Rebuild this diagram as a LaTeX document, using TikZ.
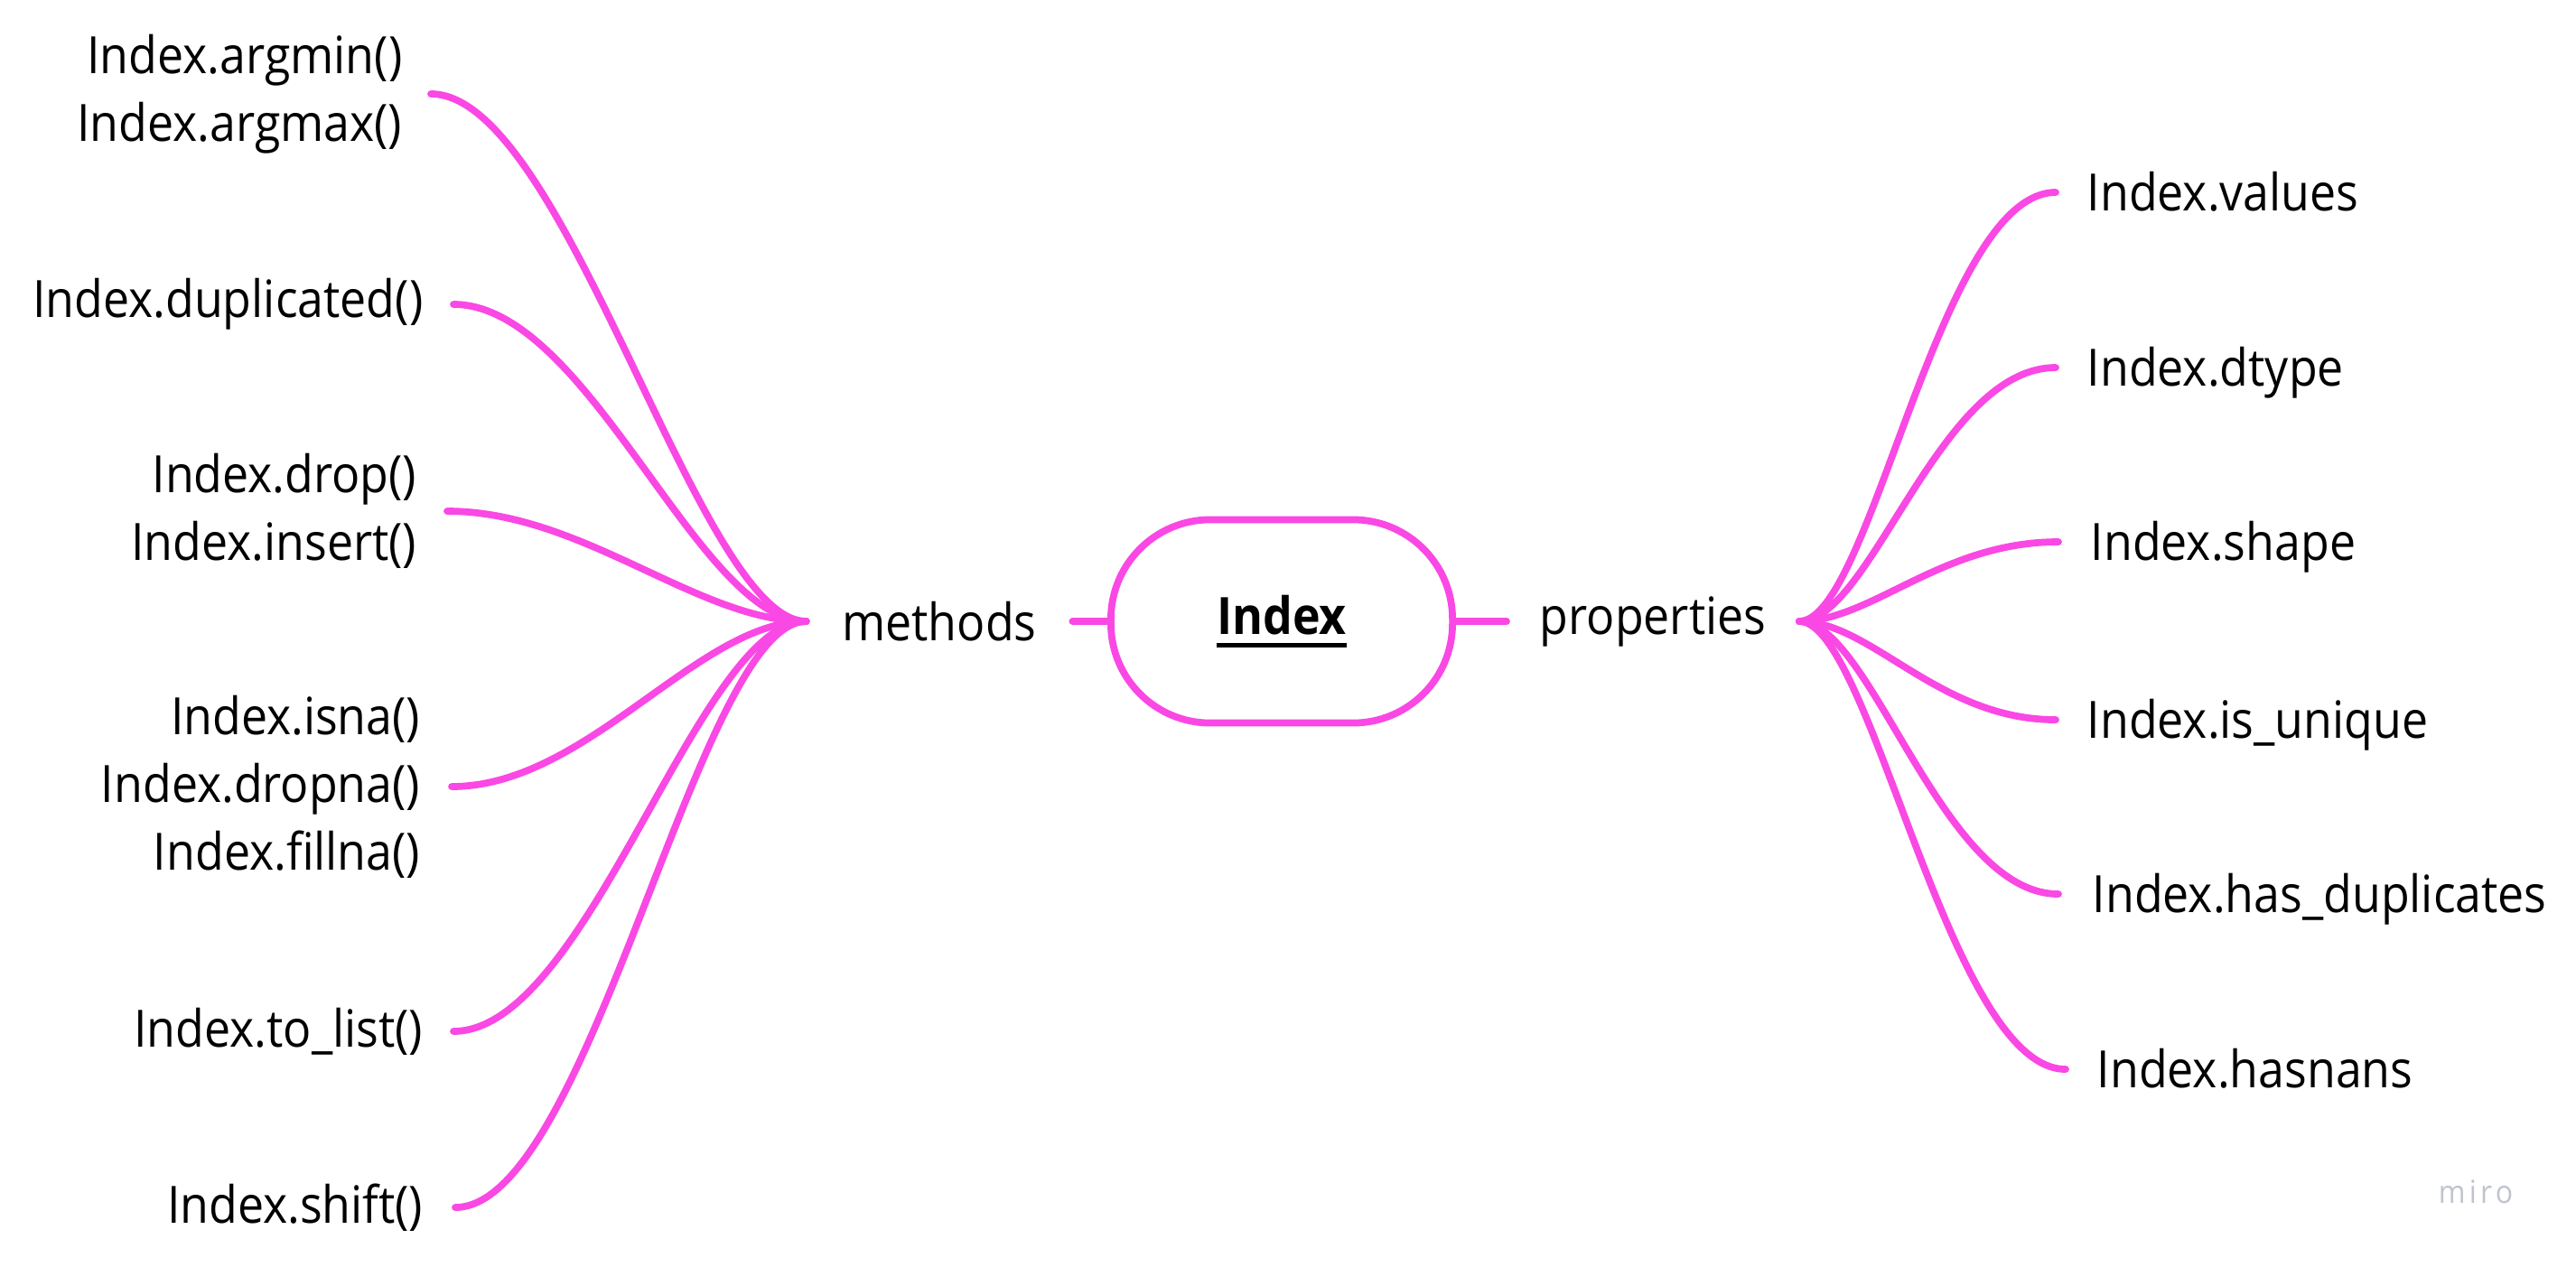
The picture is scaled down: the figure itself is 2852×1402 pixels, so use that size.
\documentclass[tikz,border=0pt]{standalone}
\usepackage{fontspec}
\setmainfont{Open Sans}[FakeStretch=0.91]
\usetikzlibrary{positioning}

\definecolor{miropink}{RGB}{250,72,228}
\definecolor{mirogrey}{RGB}{192,196,205}

% thick underline for the root label
\newcommand\rootul[1]{\setbox0\hbox{#1}\rlap{\rule[-4.2pt]{\wd0}{1.3pt}}\box0}

\begin{document}
\begin{tikzpicture}[
  x=0.01cm, y=-0.01cm,
  rootblock/.style={
    rectangle,
    rounded corners=1.1cm,
    line width=2.2pt,
    draw=miropink,
    fill=white,
    minimum width=3.78cm,
    minimum height=2.25cm,
    font=\bfseries\fontsize{16.2}{20}\selectfont
  },
  hubtext/.style={
    inner ysep=0pt,
    font=\fontsize{16.2}{20}\selectfont
  },
  leafleft/.style={
    inner sep=0pt,
    align=right,
    font=\fontsize{16.2}{21.3}\selectfont
  },
  leafright/.style={
    inner sep=0pt,
    text height=15pt,
    text depth=3.5pt,
    font=\fontsize{16.2}{21.3}\selectfont
  },
  branch/.style={
    line width=2.2pt,
    draw=miropink,
    line cap=round
  }]
  \fill[white] (0,0) rectangle (2852,1402);
  \useasboundingbox (0,0) rectangle (2852,1402);

  % centre
  \node[rootblock] (root) at (1419,688) {\rootul{Index}};
  \node[hubtext, inner xsep=0.39cm] (methods) at (1040,688) {methods};
  \node[hubtext, inner xsep=0.36cm] (props) at (1830,688) {properties};
  \draw[branch] (methods.east) -- (root.west);
  \draw[branch] (root.east) -- (props.west);

  % methods side
  \coordinate (m1) at (477,104);
  \coordinate (m2) at (502,337);
  \coordinate (m3) at (495,566);
  \coordinate (m4) at (500,871);
  \coordinate (m5) at (502,1142);
  \coordinate (m6) at (504,1337);
  \node[leafleft, left=0.31cm of m1] (argmin) {Index.argmin()\\Index.argmax()};
  \node[leafleft, left=0.33cm of m2] (dupl) {Index.duplicated()};
  \node[leafleft, left=0.33cm of m3] (drop) {Index.drop()\\Index.insert()};
  \node[leafleft, left=0.34cm of m4] (isna) {Index.isna()\\Index.dropna()\\Index.fillna()};
  \node[leafleft, left=0.33cm of m5] (tolist) {Index.to\_list()};
  \node[leafleft, left=0.35cm of m6] (shift) {Index.shift()};
  \foreach \leaf in {m1,m2,m3,m4,m5,m6}
    \draw[branch] (methods.west) .. controls +(-120,0) and +(150,0) .. (\leaf);

  % properties side
  \coordinate (p1) at (2276,213);
  \coordinate (p2) at (2276,407);
  \coordinate (p3) at (2279,600);
  \coordinate (p4) at (2276,797);
  \coordinate (p5) at (2279,990);
  \coordinate (p6) at (2287,1184);
  \node[leafright, right=0.34cm of p1] (values) {Index.values};
  \node[leafright, right=0.34cm of p2] (dtype) {Index.dtype};
  \node[leafright, right=0.35cm of p3] (shape) {Index.shape};
  \node[leafright, right=0.34cm of p4] (unique) {Index.is\_unique};
  \node[leafright, right=0.37cm of p5] (hasdup) {Index.has\_duplicates};
  \node[leafright, right=0.34cm of p6] (hasnans) {Index.hasnans};
  \foreach \leaf in {p1,p2,p3,p4,p5,p6}
    \draw[branch] (props.east) .. controls +(80,0) and +(-130,0) .. (\leaf);

  % watermark
  \node[text=mirogrey, font=\fontsize{10}{11}\selectfont\addfontfeature{LetterSpace=12}] (miro) at (2741,1320) {miro};
\end{tikzpicture}
\end{document}
